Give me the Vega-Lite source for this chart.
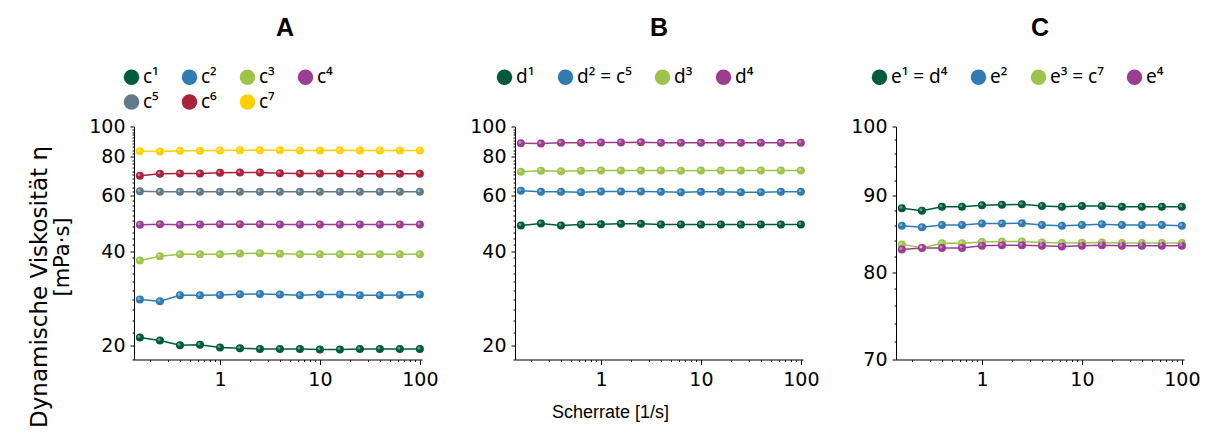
{
"$schema": "https://vega.github.io/schema/vega-lite/v6.json",
"padding": {"left": 27, "top": 15.5, "right": 0, "bottom": 0},
"spacing": 30,
"background": "white",
"datasets": {
"A": [
{"s":"c¹","x":0.158,"y":21.16},{"s":"c¹","x":0.251,"y":20.7},{"s":"c¹","x":0.398,"y":20.0},{"s":"c¹","x":0.631,"y":20.05},{"s":"c¹","x":1,"y":19.65},{"s":"c¹","x":1.585,"y":19.56},{"s":"c¹","x":2.512,"y":19.46},{"s":"c¹","x":3.981,"y":19.46},{"s":"c¹","x":6.31,"y":19.46},{"s":"c¹","x":10,"y":19.37},{"s":"c¹","x":15.85,"y":19.37},{"s":"c¹","x":25.12,"y":19.46},{"s":"c¹","x":39.81,"y":19.46},{"s":"c¹","x":63.1,"y":19.46},{"s":"c¹","x":100,"y":19.46},
{"s":"c²","x":0.158,"y":27.99},{"s":"c²","x":0.251,"y":27.65},{"s":"c²","x":0.398,"y":28.89},{"s":"c²","x":0.631,"y":28.89},{"s":"c²","x":1,"y":28.95},{"s":"c²","x":1.585,"y":29.09},{"s":"c²","x":2.512,"y":29.17},{"s":"c²","x":3.981,"y":29.02},{"s":"c²","x":6.31,"y":28.89},{"s":"c²","x":10,"y":29.02},{"s":"c²","x":15.85,"y":29.02},{"s":"c²","x":25.12,"y":28.89},{"s":"c²","x":39.81,"y":28.89},{"s":"c²","x":63.1,"y":28.95},{"s":"c²","x":100,"y":29.02},
{"s":"c³","x":0.158,"y":37.3},{"s":"c³","x":0.251,"y":38.5},{"s":"c³","x":0.398,"y":39.07},{"s":"c³","x":0.631,"y":39.07},{"s":"c³","x":1,"y":39.07},{"s":"c³","x":1.585,"y":39.26},{"s":"c³","x":2.512,"y":39.36},{"s":"c³","x":3.981,"y":39.17},{"s":"c³","x":6.31,"y":39.07},{"s":"c³","x":10,"y":39.07},{"s":"c³","x":15.85,"y":39.07},{"s":"c³","x":25.12,"y":39.07},{"s":"c³","x":39.81,"y":39.07},{"s":"c³","x":63.1,"y":39.07},{"s":"c³","x":100,"y":39.07},
{"s":"c⁴","x":0.158,"y":48.5},{"s":"c⁴","x":0.251,"y":48.74},{"s":"c⁴","x":0.398,"y":48.5},{"s":"c⁴","x":0.631,"y":48.62},{"s":"c⁴","x":1,"y":48.74},{"s":"c⁴","x":1.585,"y":48.74},{"s":"c⁴","x":2.512,"y":48.74},{"s":"c⁴","x":3.981,"y":48.62},{"s":"c⁴","x":6.31,"y":48.62},{"s":"c⁴","x":10,"y":48.62},{"s":"c⁴","x":15.85,"y":48.62},{"s":"c⁴","x":25.12,"y":48.62},{"s":"c⁴","x":39.81,"y":48.62},{"s":"c⁴","x":63.1,"y":48.62},{"s":"c⁴","x":100,"y":48.62},
{"s":"c⁵","x":0.158,"y":62.12},{"s":"c⁵","x":0.251,"y":61.82},{"s":"c⁵","x":0.398,"y":61.82},{"s":"c⁵","x":0.631,"y":61.82},{"s":"c⁵","x":1,"y":61.82},{"s":"c⁵","x":1.585,"y":61.82},{"s":"c⁵","x":2.512,"y":61.82},{"s":"c⁵","x":3.981,"y":61.82},{"s":"c⁵","x":6.31,"y":61.82},{"s":"c⁵","x":10,"y":61.82},{"s":"c⁵","x":15.85,"y":61.82},{"s":"c⁵","x":25.12,"y":61.82},{"s":"c⁵","x":39.81,"y":61.82},{"s":"c⁵","x":63.1,"y":61.82},{"s":"c⁵","x":100,"y":61.82},
{"s":"c⁶","x":0.158,"y":69.54},{"s":"c⁶","x":0.251,"y":70.58},{"s":"c⁶","x":0.398,"y":70.75},{"s":"c⁶","x":0.631,"y":70.75},{"s":"c⁶","x":1,"y":71.1},{"s":"c⁶","x":1.585,"y":71.28},{"s":"c⁶","x":2.512,"y":71.28},{"s":"c⁶","x":3.981,"y":70.93},{"s":"c⁶","x":6.31,"y":70.75},{"s":"c⁶","x":10,"y":70.75},{"s":"c⁶","x":15.85,"y":70.75},{"s":"c⁶","x":25.12,"y":70.58},{"s":"c⁶","x":39.81,"y":70.58},{"s":"c⁶","x":63.1,"y":70.58},{"s":"c⁶","x":100,"y":70.58},
{"s":"c⁷","x":0.158,"y":83.4},{"s":"c⁷","x":0.251,"y":83.2},{"s":"c⁷","x":0.398,"y":83.6},{"s":"c⁷","x":0.631,"y":83.6},{"s":"c⁷","x":1,"y":83.8},{"s":"c⁷","x":1.585,"y":84.0},{"s":"c⁷","x":2.512,"y":84.0},{"s":"c⁷","x":3.981,"y":84.0},{"s":"c⁷","x":6.31,"y":83.8},{"s":"c⁷","x":10,"y":83.8},{"s":"c⁷","x":15.85,"y":84.0},{"s":"c⁷","x":25.12,"y":83.8},{"s":"c⁷","x":39.81,"y":83.8},{"s":"c⁷","x":63.1,"y":83.8},{"s":"c⁷","x":100,"y":83.8}
],
"B": [
{"s":"d¹","x":0.158,"y":48.27},{"s":"d¹","x":0.251,"y":48.97},{"s":"d¹","x":0.398,"y":48.27},{"s":"d¹","x":0.631,"y":48.62},{"s":"d¹","x":1,"y":48.74},{"s":"d¹","x":1.585,"y":48.86},{"s":"d¹","x":2.512,"y":48.86},{"s":"d¹","x":3.981,"y":48.62},{"s":"d¹","x":6.31,"y":48.62},{"s":"d¹","x":10,"y":48.62},{"s":"d¹","x":15.85,"y":48.62},{"s":"d¹","x":25.12,"y":48.62},{"s":"d¹","x":39.81,"y":48.62},{"s":"d¹","x":63.1,"y":48.62},{"s":"d¹","x":100,"y":48.62},
{"s":"d² = c⁵","x":0.158,"y":62.27},{"s":"d² = c⁵","x":0.251,"y":61.82},{"s":"d² = c⁵","x":0.398,"y":61.82},{"s":"d² = c⁵","x":0.631,"y":61.67},{"s":"d² = c⁵","x":1,"y":61.97},{"s":"d² = c⁵","x":1.585,"y":61.97},{"s":"d² = c⁵","x":2.512,"y":61.97},{"s":"d² = c⁵","x":3.981,"y":61.82},{"s":"d² = c⁵","x":6.31,"y":61.67},{"s":"d² = c⁵","x":10,"y":61.82},{"s":"d² = c⁵","x":15.85,"y":61.82},{"s":"d² = c⁵","x":25.12,"y":61.67},{"s":"d² = c⁵","x":39.81,"y":61.67},{"s":"d² = c⁵","x":63.1,"y":61.82},{"s":"d² = c⁵","x":100,"y":61.82},
{"s":"d³","x":0.158,"y":71.62},{"s":"d³","x":0.251,"y":72.15},{"s":"d³","x":0.398,"y":71.97},{"s":"d³","x":0.631,"y":72.15},{"s":"d³","x":1,"y":72.33},{"s":"d³","x":1.585,"y":72.33},{"s":"d³","x":2.512,"y":72.33},{"s":"d³","x":3.981,"y":72.33},{"s":"d³","x":6.31,"y":72.15},{"s":"d³","x":10,"y":72.33},{"s":"d³","x":15.85,"y":72.33},{"s":"d³","x":25.12,"y":72.33},{"s":"d³","x":39.81,"y":72.33},{"s":"d³","x":63.1,"y":72.33},{"s":"d³","x":100,"y":72.33},
{"s":"d⁴","x":0.158,"y":88.47},{"s":"d⁴","x":0.251,"y":88.2},{"s":"d⁴","x":0.398,"y":88.68},{"s":"d⁴","x":0.631,"y":88.68},{"s":"d⁴","x":1,"y":88.9},{"s":"d⁴","x":1.585,"y":88.9},{"s":"d⁴","x":2.512,"y":89.1},{"s":"d⁴","x":3.981,"y":88.68},{"s":"d⁴","x":6.31,"y":88.68},{"s":"d⁴","x":10,"y":88.68},{"s":"d⁴","x":15.85,"y":88.68},{"s":"d⁴","x":25.12,"y":88.68},{"s":"d⁴","x":39.81,"y":88.68},{"s":"d⁴","x":63.1,"y":88.68},{"s":"d⁴","x":100,"y":88.68}
],
"C": [
{"s":"e¹ = d⁴","x":0.158,"y":88.23},{"s":"e¹ = d⁴","x":0.251,"y":87.9},{"s":"e¹ = d⁴","x":0.398,"y":88.45},{"s":"e¹ = d⁴","x":0.631,"y":88.45},{"s":"e¹ = d⁴","x":1,"y":88.63},{"s":"e¹ = d⁴","x":1.585,"y":88.72},{"s":"e¹ = d⁴","x":2.512,"y":88.77},{"s":"e¹ = d⁴","x":3.981,"y":88.54},{"s":"e¹ = d⁴","x":6.31,"y":88.45},{"s":"e¹ = d⁴","x":10,"y":88.54},{"s":"e¹ = d⁴","x":15.85,"y":88.54},{"s":"e¹ = d⁴","x":25.12,"y":88.45},{"s":"e¹ = d⁴","x":39.81,"y":88.45},{"s":"e¹ = d⁴","x":63.1,"y":88.45},{"s":"e¹ = d⁴","x":100,"y":88.45},
{"s":"e²","x":0.158,"y":85.92},{"s":"e²","x":0.251,"y":85.7},{"s":"e²","x":0.398,"y":86.01},{"s":"e²","x":0.631,"y":86.01},{"s":"e²","x":1,"y":86.19},{"s":"e²","x":1.585,"y":86.19},{"s":"e²","x":2.512,"y":86.23},{"s":"e²","x":3.981,"y":86.01},{"s":"e²","x":6.31,"y":85.92},{"s":"e²","x":10,"y":86.01},{"s":"e²","x":15.85,"y":86.1},{"s":"e²","x":25.12,"y":86.01},{"s":"e²","x":39.81,"y":86.01},{"s":"e²","x":63.1,"y":86.01},{"s":"e²","x":100,"y":85.92},
{"s":"e³ = c⁷","x":0.158,"y":83.49},{"s":"e³ = c⁷","x":0.251,"y":83.07},{"s":"e³ = c⁷","x":0.398,"y":83.62},{"s":"e³ = c⁷","x":0.631,"y":83.62},{"s":"e³ = c⁷","x":1,"y":83.79},{"s":"e³ = c⁷","x":1.585,"y":83.87},{"s":"e³ = c⁷","x":2.512,"y":83.87},{"s":"e³ = c⁷","x":3.981,"y":83.74},{"s":"e³ = c⁷","x":6.31,"y":83.66},{"s":"e³ = c⁷","x":10,"y":83.7},{"s":"e³ = c⁷","x":15.85,"y":83.74},{"s":"e³ = c⁷","x":25.12,"y":83.66},{"s":"e³ = c⁷","x":39.81,"y":83.66},{"s":"e³ = c⁷","x":63.1,"y":83.66},{"s":"e³ = c⁷","x":100,"y":83.66},
{"s":"e⁴","x":0.158,"y":82.83},{"s":"e⁴","x":0.251,"y":83.04},{"s":"e⁴","x":0.398,"y":83.04},{"s":"e⁴","x":0.631,"y":83.04},{"s":"e⁴","x":1,"y":83.3},{"s":"e⁴","x":1.585,"y":83.38},{"s":"e⁴","x":2.512,"y":83.38},{"s":"e⁴","x":3.981,"y":83.3},{"s":"e⁴","x":6.31,"y":83.21},{"s":"e⁴","x":10,"y":83.3},{"s":"e⁴","x":15.85,"y":83.38},{"s":"e⁴","x":25.12,"y":83.3},{"s":"e⁴","x":39.81,"y":83.3},{"s":"e⁴","x":63.1,"y":83.3},{"s":"e⁴","x":100,"y":83.3}
]
},
"hconcat": [
{
"data": {"name": "A"},
"width": 288, "height": 233,
"title": {"text": "A", "font": "Liberation Sans", "fontSize": 25, "fontWeight": "bold", "color": "#000", "anchor": "middle", "frame": "group", "baseline": "alphabetic", "offset": 6.5, "dx": 7},
"layer": [
{"mark": {"type": "line", "strokeWidth": 1.5},
 "encoding": {
  "x": {"field": "x", "type": "quantitative", "scale": {"type": "log", "domain": [0.138, 105], "nice": false},
        "axis": {"values": [1, 10, 100], "format": "d", "tickSize": 5, "labelPadding": 6, "labelFlush": false, "title": null}},
  "y": {"field": "y", "type": "quantitative", "scale": {"type": "log", "domain": [18, 100], "nice": false, "zero": false},
        "axis": {"values": [20, 40, 60, 80, 100], "format": "d", "tickSize": 4, "labelPadding": 5, "title": "Dynamische Viskosität η", "titleFontSize": 23, "titleX": -95, "titleY": 160, "titleBaseline": "middle", "titleAlign": "center"}},
  "color": {"field": "s", "type": "nominal", "scale": {"domain": ["c¹","c²","c³","c⁴","c⁵","c⁶","c⁷"], "range": ["#005a3c","#2f7bb2","#9cc34a","#9c3d92","#617a89","#a9213b","#ffd100"]}, "legend": {"orient": "none", "direction": "horizontal", "legendX": -12, "legendY": -59, "columns": 4}}
 }},
{"mark": {"type": "point", "filled": true, "size": 64, "opacity": 1},
 "encoding": {
  "x": {"field": "x", "type": "quantitative", "axis": {"orient": "bottom", "values": [0.2,0.3,0.4,0.5,0.6,0.7,0.8,0.9,2,3,4,5,6,7,8,9,20,30,40,50,60,70,80,90], "labels": false, "domain": false, "tickSize": 2, "title": null}},
  "y": {"field": "y", "type": "quantitative", "axis": {"orient": "left", "values": [18,22,24,26,28,30,32,34,36,38,42,44,46,48,50,52,54,56,58,62,64,66,68,70,72,74,76,78,82,84,86,88,90,92,94,96,98], "labels": false, "domain": false, "tickSize": 2, "title": "[mPa·s]", "titleX": -72, "titleY": 130, "titleBaseline": "middle", "titleAlign": "center"}},
  "color": {"field": "s", "type": "nominal", "legend": {"orient": "none", "direction": "horizontal", "legendX": -12, "legendY": -59, "columns": 4}}
 }},
{"mark": {"type": "point", "filled": true, "size": 9, "color": "#ffffff", "opacity": 0.4, "xOffset": -1, "yOffset": -1},
 "encoding": {
  "x": {"field": "x", "type": "quantitative", "axis": null},
  "y": {"field": "y", "type": "quantitative", "axis": null}
 }}
],
"resolve": {"axis": {"x": "independent", "y": "independent"}}
},
{
"data": {"name": "B"},
"width": 288, "height": 233,
"title": {"text": "B", "font": "Liberation Sans", "fontSize": 25, "fontWeight": "bold", "color": "#000", "anchor": "middle", "frame": "group", "baseline": "alphabetic", "offset": 6.5},
"layer": [
{"mark": {"type": "line", "strokeWidth": 1.5},
 "encoding": {
  "x": {"field": "x", "type": "quantitative", "scale": {"type": "log", "domain": [0.138, 105], "nice": false},
        "axis": {"values": [1, 10, 100], "format": "d", "tickSize": 5, "labelPadding": 6, "labelFlush": false, "title": "Scherrate [1/s]", "titleFont": "Liberation Sans", "titleFontSize": 18, "titleX": 95, "titleY": 53, "titleBaseline": "middle", "titleAlign": "center"}},
  "y": {"field": "y", "type": "quantitative", "scale": {"type": "log", "domain": [18, 100], "nice": false, "zero": false},
        "axis": {"values": [20, 40, 60, 80, 100], "format": "d", "tickSize": 4, "labelPadding": 5, "title": null}},
  "color": {"field": "s", "type": "nominal", "scale": {"domain": ["d¹","d² = c⁵","d³","d⁴"], "range": ["#005a3c","#2f7bb2","#9cc34a","#9c3d92"]}, "legend": {"orient": "none", "direction": "horizontal", "legendX": -20, "legendY": -59, "columns": 4}}
 }},
{"mark": {"type": "point", "filled": true, "size": 64, "opacity": 1},
 "encoding": {
  "x": {"field": "x", "type": "quantitative", "axis": {"orient": "bottom", "values": [0.2,0.3,0.4,0.5,0.6,0.7,0.8,0.9,2,3,4,5,6,7,8,9,20,30,40,50,60,70,80,90], "labels": false, "domain": false, "tickSize": 2, "title": null}},
  "y": {"field": "y", "type": "quantitative", "axis": {"orient": "left", "values": [18,22,24,26,28,30,32,34,36,38,42,44,46,48,50,52,54,56,58,62,64,66,68,70,72,74,76,78,82,84,86,88,90,92,94,96,98], "labels": false, "domain": false, "tickSize": 2, "title": null}},
  "color": {"field": "s", "type": "nominal", "legend": {"orient": "none", "direction": "horizontal", "legendX": -20, "legendY": -59, "columns": 4}}
 }},
{"mark": {"type": "point", "filled": true, "size": 9, "color": "#ffffff", "opacity": 0.4, "xOffset": -1, "yOffset": -1},
 "encoding": {
  "x": {"field": "x", "type": "quantitative", "axis": null},
  "y": {"field": "y", "type": "quantitative", "axis": null}
 }}
],
"resolve": {"axis": {"x": "independent", "y": "independent"}}
},
{
"data": {"name": "C"},
"width": 288, "height": 233,
"title": {"text": "C", "font": "Liberation Sans", "fontSize": 25, "fontWeight": "bold", "color": "#000", "anchor": "middle", "frame": "group", "baseline": "alphabetic", "offset": 6.5},
"layer": [
{"mark": {"type": "line", "strokeWidth": 1.5},
 "encoding": {
  "x": {"field": "x", "type": "quantitative", "scale": {"type": "log", "domain": [0.138, 105], "nice": false},
        "axis": {"values": [1, 10, 100], "format": "d", "tickSize": 5, "labelPadding": 6, "labelFlush": false, "title": null}},
  "y": {"field": "y", "type": "quantitative", "scale": {"type": "log", "domain": [70, 100], "nice": false, "zero": false},
        "axis": {"values": [70, 80, 90, 100], "format": "d", "tickSize": 4, "labelPadding": 5, "title": null}},
  "color": {"field": "s", "type": "nominal", "scale": {"domain": ["e¹ = d⁴","e²","e³ = c⁷","e⁴"], "range": ["#005a3c","#2f7bb2","#9cc34a","#9c3d92"]}, "legend": {"orient": "none", "direction": "horizontal", "legendX": -26, "legendY": -59, "columns": 4}}
 }},
{"mark": {"type": "point", "filled": true, "size": 64, "opacity": 1},
 "encoding": {
  "x": {"field": "x", "type": "quantitative", "axis": {"orient": "bottom", "values": [0.2,0.3,0.4,0.5,0.6,0.7,0.8,0.9,2,3,4,5,6,7,8,9,20,30,40,50,60,70,80,90], "labels": false, "domain": false, "tickSize": 2, "title": null}},
  "y": {"field": "y", "type": "quantitative", "axis": {"orient": "left", "values": [72,74,76,78,82,84,86,88,92,94,96,98], "labels": false, "domain": false, "tickSize": 2, "title": null}},
  "color": {"field": "s", "type": "nominal", "legend": {"orient": "none", "direction": "horizontal", "legendX": -26, "legendY": -59, "columns": 4}}
 }},
{"mark": {"type": "point", "filled": true, "size": 9, "color": "#ffffff", "opacity": 0.4, "xOffset": -1, "yOffset": -1},
 "encoding": {
  "x": {"field": "x", "type": "quantitative", "axis": null},
  "y": {"field": "y", "type": "quantitative", "axis": null}
 }}
],
"resolve": {"axis": {"x": "independent", "y": "independent"}}
}
],
"resolve": {"scale": {"color": "independent"}, "legend": {"color": "independent"}},
"config": {
 "view": {"stroke": null},
 "axis": {"grid": false, "domainColor": "#000", "domainWidth": 1, "tickColor": "#000", "tickWidth": 1, "labelFont": "DejaVu Sans", "labelFontSize": 19, "labelColor": "#000", "titleFont": "DejaVu Sans", "titleFontWeight": "normal", "titleFontSize": 21, "titleColor": "#000"},
 "legend": {"title": null, "symbolType": "circle", "symbolSize": 240, "symbolStrokeWidth": 0, "symbolOpacity": 1, "labelFont": "Noto Sans", "labelFontSize": 19, "labelColor": "#000", "labelOffset": 2, "columnPadding": 21, "rowPadding": 5}
}
}
